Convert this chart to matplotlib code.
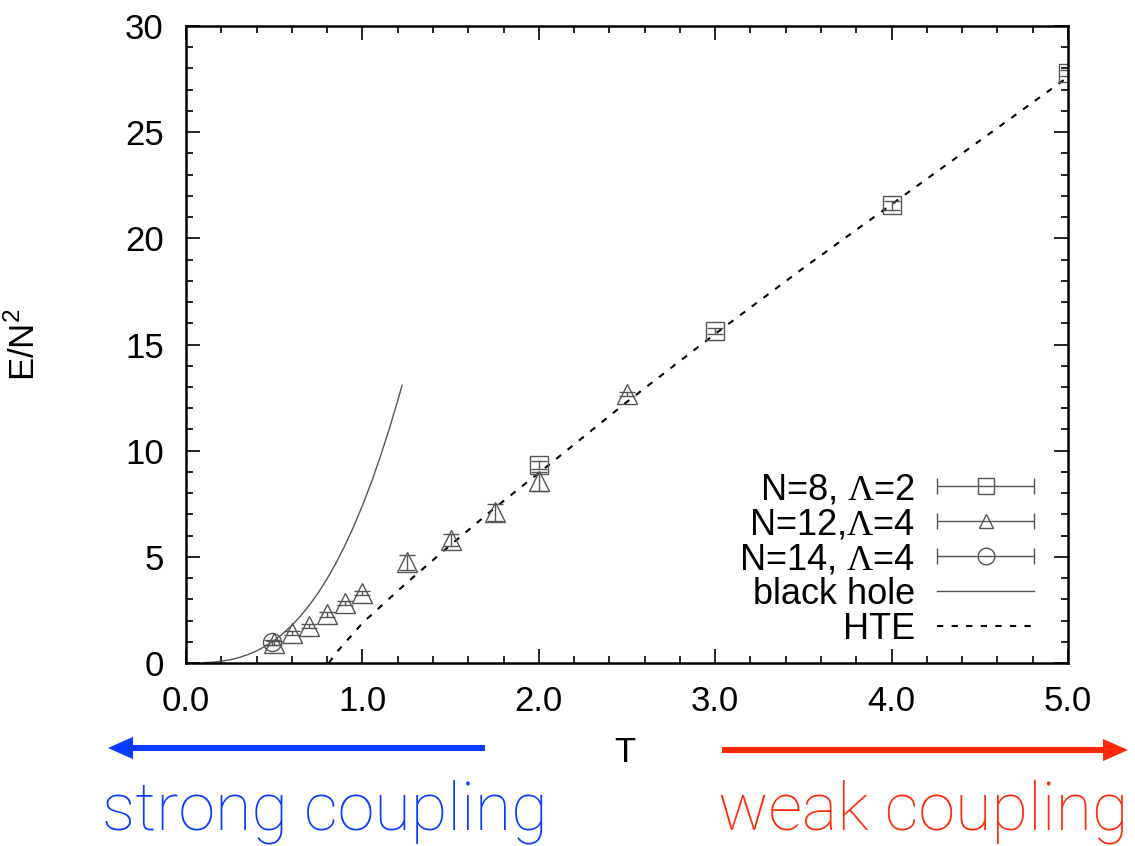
import matplotlib
matplotlib.use("Agg")
import matplotlib.pyplot as plt
from matplotlib.legend_handler import HandlerErrorbar
from matplotlib.container import ErrorbarContainer
import numpy as np

plt.rcParams['font.family'] = ['Liberation Sans', 'DejaVu Sans']
plt.rcParams['mathtext.fontset'] = 'custom'
plt.rcParams['mathtext.rm'] = 'Liberation Serif'
plt.rcParams['mathtext.sf'] = 'Liberation Sans'

# N=8, Lambda=2 (squares)
T_n8 = [2.0, 3.0, 4.0, 5.0]
E_n8 = [9.33, 15.65, 21.55, 27.8]
err_n8 = [0.2, 0.15, 0.2, 0.15]

# N=12, Lambda=4 (triangles)
T_n12 = [0.5, 0.6, 0.7, 0.8, 0.9, 1.0, 1.25, 1.5, 1.75, 2.0, 2.5]
E_n12 = [0.94, 1.41, 1.74, 2.3, 2.82, 3.28, 4.75, 5.79, 7.1, 8.55, 12.67]
err_n12 = [0.1, 0.1, 0.1, 0.12, 0.1, 0.1, 0.35, 0.3, 0.4, 0.45, 0.1]

# N=14, Lambda=4 (circles)
T_n14 = [0.49]
E_n14 = [0.97]
err_n14 = [0.1]

# black hole curve
T_bh = [0.1, 0.15, 0.2, 0.25, 0.3, 0.35, 0.4, 0.45, 0.5, 0.55, 0.6, 0.65, 0.7,
        0.75, 0.8, 0.85, 0.9, 0.95, 1.0, 1.05, 1.1, 1.15, 1.2, 1.225]
E_bh = [0.012, 0.037, 0.082, 0.153, 0.255, 0.392, 0.569, 0.792, 1.064, 1.389,
        1.773, 2.219, 2.729, 3.311, 3.967, 4.702, 5.517, 6.419, 7.41, 8.495,
        9.677, 10.96, 12.35, 13.08]

# high temperature expansion
T_hte = [0.81, 0.85, 1.0, 1.25, 1.5, 1.75, 2.0, 2.5, 3.0, 3.5, 4.0, 4.5, 5.0]
E_hte = [0.0, 0.47, 1.88, 3.77, 5.56, 7.3, 8.95, 12.3, 15.5, 18.6, 21.6, 24.6, 27.6]

fig = plt.figure(figsize=(11.35, 8.46), dpi=100)
ax = fig.add_axes([186/1135, 1 - 663/846, 882/1135, 637/846])

grey = '#555555'
ebkw = dict(ls='none', color=grey, ecolor=grey, elinewidth=1.0, capsize=6,
            capthick=1.0, mfc='none', mec=grey, mew=1.0)

ax.plot(T_bh, E_bh, '-', color='#555555', lw=1.0)
ax.plot(T_hte, E_hte, color='black', lw=1.5, dashes=(3, 4))

ax.errorbar(T_n8, E_n8, yerr=err_n8, marker='s', ms=13, **ebkw)
ax.errorbar(T_n12, E_n12, yerr=err_n12, marker='^', ms=14, **ebkw)
ax.errorbar(T_n14, E_n14, yerr=err_n14, marker='o', ms=13, **ebkw)

# legend proxies with horizontal bars (gnuplot style)
h1 = ax.errorbar([np.nan], [np.nan], xerr=[1], marker='s', ms=12, label='N=8, $\\Lambda$=2', **ebkw)
h2 = ax.errorbar([np.nan], [np.nan], xerr=[1], marker='^', ms=10, label='N=12,$\\Lambda$=4', **ebkw)
h3 = ax.errorbar([np.nan], [np.nan], xerr=[1], marker='o', ms=12, label='N=14, $\\Lambda$=4', **ebkw)
h4, = ax.plot([], [], '-', color='#555555', lw=1.0, label='black hole')
h5, = ax.plot([], [], color='black', lw=1.5, dashes=(3, 4), label='HTE')

leg = ax.legend(handles=[h1, h2, h3, h4, h5], loc='lower right',
                bbox_to_anchor=(0.962, 0.025), frameon=False, markerfirst=False,
                fontsize=26, handlelength=2.7, handletextpad=0.6,
                labelspacing=0.0, borderpad=0, borderaxespad=0,
                handler_map={ErrorbarContainer: HandlerErrorbar(xerr_size=1.35)})

ax.set_xlim(0, 5)
ax.set_ylim(0, 30)
ax.set_xticks([0, 1, 2, 3, 4, 5])
ax.set_xticklabels(['0.0', '1.0', '2.0', '3.0', '4.0', '5.0'])
ax.set_xticks(np.arange(0, 5.01, 0.2), minor=True)
ax.set_yticks([0, 5, 10, 15, 20, 25, 30])
ax.set_yticks(np.arange(0, 30.1, 1), minor=True)
ax.tick_params(which='both', direction='in', top=True, right=True, width=1.2)
ax.tick_params(which='major', length=10, labelsize=25)
ax.tick_params(which='minor', length=5)
ax.tick_params(axis='y', pad=16)
ax.tick_params(axis='x', pad=16)
for s in ax.spines.values():
    s.set_linewidth(1.8)

ax.set_ylabel('E/N$^\\mathsf{2}$', fontsize=25, labelpad=60)
fig.text(625/1135, 1 - 752/846, 'T', fontsize=25, ha='center', va='center')

blue = '#0a3cff'
red = '#ff2a0a'
arrow = 'simple,head_length=0.9,head_width=0.8,tail_width=0.22'
ax.annotate('', xy=(108/1135, 1 - 748/846), xytext=(485/1135, 1 - 748/846),
            xycoords='figure fraction', textcoords='figure fraction',
            arrowprops=dict(arrowstyle=arrow, mutation_scale=20, color=blue, lw=0,
                            shrinkA=0, shrinkB=0))
ax.annotate('', xy=(1128/1135, 1 - 750/846), xytext=(722/1135, 1 - 750/846),
            xycoords='figure fraction', textcoords='figure fraction',
            arrowprops=dict(arrowstyle=arrow, mutation_scale=20, color=red, lw=0,
                            shrinkA=0, shrinkB=0))

fig.text(325/1135, 1 - 812/846, 'strong coupling', fontsize=48, color=blue,
         ha='center', va='center', family=['Roboto', 'Liberation Sans'], fontweight='light')
fig.text(923/1135, 1 - 812/846, 'weak coupling', fontsize=48, color=red,
         ha='center', va='center', family=['Roboto', 'Liberation Sans'], fontweight='light')

fig.savefig('out.png', dpi=100)
